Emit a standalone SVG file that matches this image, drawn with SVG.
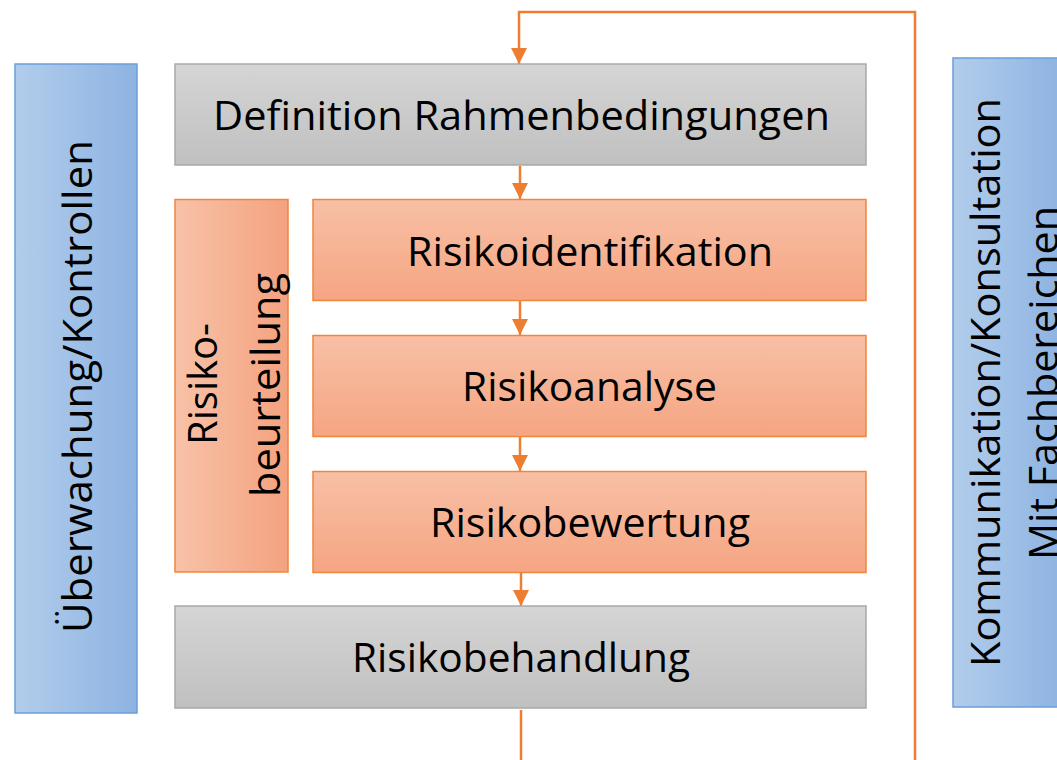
<svg xmlns="http://www.w3.org/2000/svg" width="1057" height="760" viewBox="0 0 1057 760">
  <defs>
    <linearGradient id="gGray" x1="0" y1="0" x2="0" y2="1">
      <stop offset="0" stop-color="#d5d5d5"/>
      <stop offset="1" stop-color="#c0c0c0"/>
    </linearGradient>
    <linearGradient id="gOrange" x1="0" y1="0" x2="0" y2="1">
      <stop offset="0" stop-color="#f8c0a6"/>
      <stop offset="1" stop-color="#f5a582"/>
    </linearGradient>
    <linearGradient id="gOrangeH" x1="0" y1="0" x2="1" y2="0">
      <stop offset="0" stop-color="#f8c2a8"/>
      <stop offset="1" stop-color="#f4a27f"/>
    </linearGradient>
    <linearGradient id="gBlue" x1="0" y1="0" x2="1" y2="0">
      <stop offset="0" stop-color="#b2cdeb"/>
      <stop offset="1" stop-color="#8db3e2"/>
    </linearGradient>
    <marker id="arr" viewBox="0 0 16 16" refX="16" refY="8" markerWidth="16" markerHeight="16" markerUnits="userSpaceOnUse" orient="auto">
      <path d="M0,0 L16,8 L0,16 Z" fill="#ed7d31"/>
    </marker>
  </defs>
  <style>
    .gray { fill: url(#gGray); stroke: #a9a9a9; stroke-width: 1.5; }
    .orange { fill: url(#gOrange); stroke: #f0863c; stroke-width: 1.5; }
    .orangeH { fill: url(#gOrangeH); stroke: #f0863c; stroke-width: 1.5; }
    .blue { fill: url(#gBlue); stroke: #6b9fd8; stroke-width: 1.5; }
    .lbl { font-family: "Open Sans", "Liberation Sans", sans-serif; font-size: 41px; fill: #000; text-anchor: middle; }
    .con { fill: none; stroke: #ed7d31; stroke-width: 2.5; }
  </style>

  <g id="connectors">
    <path class="con" d="M915,760 L915,12 L519,12 L519,64" marker-end="url(#arr)"/>
    <path class="con" d="M520,166 L520,199" marker-end="url(#arr)"/>
    <path class="con" d="M520,301 L520,335" marker-end="url(#arr)"/>
    <path class="con" d="M520,437 L520,471" marker-end="url(#arr)"/>
    <path class="con" d="M521,573 L521,606" marker-end="url(#arr)"/>
    <path class="con" d="M521,710 L521,760"/>
  </g>

  <g id="ueberwachung">
    <rect class="blue" x="15" y="64" width="122" height="649"/>
    <text class="lbl" transform="translate(92,386.5) rotate(-90)" textLength="493" lengthAdjust="spacingAndGlyphs">Überwachung/Kontrollen</text>
  </g>

  <g id="kommunikation">
    <rect class="blue" x="953" y="58" width="110" height="649"/>
    <text class="lbl" transform="translate(1000,382.5) rotate(-90)" textLength="569" lengthAdjust="spacingAndGlyphs">Kommunikation/Konsultation</text>
    <text class="lbl" transform="translate(1058,383) rotate(-90)" textLength="354" lengthAdjust="spacingAndGlyphs">Mit Fachbereichen</text>
  </g>

  <g id="definition">
    <rect class="gray" x="175" y="64" width="691" height="101"/>
    <text class="lbl" x="521.5" y="130" textLength="617" lengthAdjust="spacingAndGlyphs">Definition Rahmenbedingungen</text>
  </g>

  <g id="risikobeurteilung">
    <rect class="orangeH" x="175" y="199.5" width="113" height="372.5"/>
    <text class="lbl" transform="translate(217,384) rotate(-90)" textLength="122" lengthAdjust="spacingAndGlyphs">Risiko-</text>
    <text class="lbl" transform="translate(280,385) rotate(-90)" textLength="224" lengthAdjust="spacingAndGlyphs">beurteilung</text>
  </g>

  <g id="risikoidentifikation">
    <rect class="orange" x="313" y="199.5" width="553" height="101"/>
    <text class="lbl" x="590" y="266" textLength="366" lengthAdjust="spacingAndGlyphs">Risikoidentifikation</text>
  </g>

  <g id="risikoanalyse">
    <rect class="orange" x="313" y="335.5" width="553" height="101"/>
    <text class="lbl" x="589.5" y="401" textLength="255" lengthAdjust="spacingAndGlyphs">Risikoanalyse</text>
  </g>

  <g id="risikobewertung">
    <rect class="orange" x="313" y="471.5" width="553" height="101"/>
    <text class="lbl" x="590" y="537" textLength="320" lengthAdjust="spacingAndGlyphs">Risikobewertung</text>
  </g>

  <g id="risikobehandlung">
    <rect class="gray" x="175" y="606" width="691" height="102"/>
    <text class="lbl" x="521" y="672" textLength="338" lengthAdjust="spacingAndGlyphs">Risikobehandlung</text>
  </g>
</svg>
